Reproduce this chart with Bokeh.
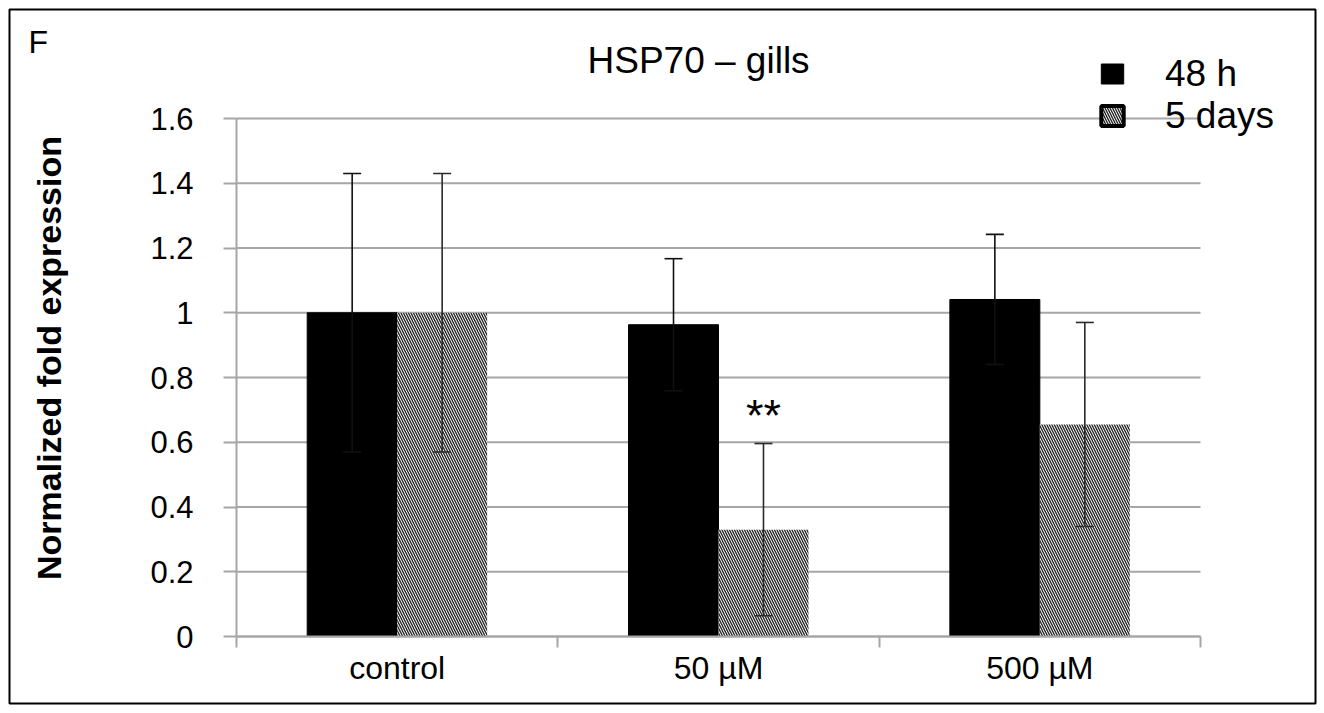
import math
from bokeh.plotting import figure
from bokeh.models import (Range1d, LinearAxis, FixedTicker, ColumnDataSource,
                          Whisker, TeeHead, Label, Legend, LegendItem)
from bokeh.transform import dodge
from bokeh.core.properties import value
from bokeh.embed import file_html
from bokeh.resources import INLINE

# ---------------- data ----------------
categories = ["control", "50 µM", "500 µM"]
series_names = ["48 h", "5 days"]
mean_48h = [1.00, 0.963, 1.041]
err_48h = [0.43, 0.204, 0.201]
mean_5d = [1.00, 0.33, 0.655]
err_5d = [0.43, 0.266, 0.315]
y_ticks = [0, 0.2, 0.4, 0.6, 0.8, 1.0, 1.2, 1.4, 1.6]
y_tick_labels = ["0", "0.2", "0.4", "0.6", "0.8", "1", "1.2", "1.4", "1.6"]
title_text = "HSP70 – gills"
panel_letter = "F"
y_label = "Normalized fold expression"
signif_category = "50 µM"
signif_text = "**"

# ---------------- layout / styles ----------------
FONT = "Liberation Sans"
GRID = "#a6a6a6"
W, H = 1324, 712
FR = 9                              # inset of the boxed frame from the figure edge
AX_LEFT, AX_RIGHT = 236, 1200       # page x of category axis ends
Y0_PX, Y1_PX = 636, 118             # page y of lowest / highest tick
BAR_W = 0.28
OFF = 0.14

n = len(categories)
centres = [i + 0.5 for i in range(n)]
bounds = [float(i) for i in range(n + 1)]
ymin, ymax = y_ticks[0], y_ticks[-1]

cat_px = (AX_RIGHT - AX_LEFT) / n
px_per = (Y0_PX - Y1_PX) / (ymax - ymin)
x_range = Range1d(bounds[0] - (AX_LEFT - FR) / cat_px, bounds[-1] + (W - FR - AX_RIGHT) / cat_px)
y_range = Range1d(ymin - (H - FR - Y0_PX) / px_per, ymax + (Y1_PX - FR) / px_per)


def sx(px):   # page x -> frame screen x
    return px - FR


def sy(py):   # page y -> frame screen y (from bottom)
    return (H - FR) - py


src = ColumnDataSource(dict(
    xc=centres, cat=categories,
    m48=mean_48h, m5=mean_5d,
    up48=[m + e for m, e in zip(mean_48h, err_48h)],
    lo48=[m - e for m, e in zip(mean_48h, err_48h)],
    up5=[m + e for m, e in zip(mean_5d, err_5d)],
    lo5=[m - e for m, e in zip(mean_5d, err_5d)],
))

p = figure(x_range=x_range, y_range=y_range, width=W, height=H,
           output_backend="svg", toolbar_location=None,
           x_axis_type=None, y_axis_type=None, min_border=FR)
p.outline_line_color = "black"
p.outline_line_width = 2
p.background_fill_color = "white"
p.border_fill_color = "white"
p.xgrid.visible = False
p.ygrid.visible = False

# horizontal grid lines across the category span
grid_src = ColumnDataSource(dict(y=y_ticks, x0=[bounds[0]] * len(y_ticks),
                                 x1=[bounds[-1]] * len(y_ticks)))
p.segment(x0="x0", y0="y", x1="x1", y1="y", source=grid_src,
          line_color=GRID, line_width=2, level="underlay")

# y axis
ya = LinearAxis(fixed_location=bounds[0], bounds=(ymin, ymax),
                ticker=FixedTicker(ticks=y_ticks),
                major_label_overrides={t: l for t, l in zip(y_ticks, y_tick_labels)})
ya.major_label_text_font = FONT
ya.major_label_text_font_size = "31px"
ya.major_label_text_color = "black"
ya.major_label_standoff = 30
ya.major_tick_out = 13
ya.major_tick_in = 0
ya.minor_tick_line_color = None
ya.major_tick_line_color = GRID
ya.major_tick_line_width = 2
ya.axis_line_color = GRID
ya.axis_line_width = 2
p.add_layout(ya, "left")

# x axis: labels at category centres, ticks at category boundaries
overrides = {c: lab for c, lab in zip(centres, categories)}
xa = LinearAxis(fixed_location=ymin, bounds=(bounds[0], bounds[-1]),
                ticker=FixedTicker(ticks=centres, minor_ticks=bounds),
                major_label_overrides=overrides)
xa.major_label_text_font = FONT
xa.major_label_text_font_size = "32px"
xa.major_label_text_color = "black"
xa.major_label_standoff = 2
xa.major_tick_out = 0
xa.major_tick_in = 0
xa.major_tick_line_color = None
xa.minor_tick_out = 11
xa.minor_tick_in = 0
xa.minor_tick_line_color = GRID
xa.minor_tick_line_width = 2
xa.axis_line_color = GRID
xa.axis_line_width = 2
p.add_layout(xa, "below")

# bars
HATCH = dict(hatch_pattern="\\", hatch_color="#262626", hatch_scale=5, hatch_weight=1.4)
r48 = p.vbar(x=dodge("xc", -OFF), top="m48", width=BAR_W, source=src,
             fill_color="black", line_color="black", line_width=1)
r5 = p.vbar(x=dodge("xc", OFF), top="m5", width=BAR_W, source=src,
            fill_color="white", line_color=None, **HATCH)

# error bars
for base_off, up, lo, col in [(-OFF, "up48", "lo48", "#111111"), (OFF, "up5", "lo5", "#2a2a2a")]:
    wk = Whisker(source=src, base=dodge("xc", base_off), upper=up, lower=lo,
                 line_color=col, line_width=1.6, level="annotation",
                 upper_head=TeeHead(size=18, line_color=col, line_width=1.6),
                 lower_head=TeeHead(size=18, line_color=col, line_width=1.6))
    p.add_layout(wk)

# significance marker
si = categories.index(signif_category)
star_src = ColumnDataSource(dict(xc=[centres[si]], y=[mean_5d[si] + err_5d[si]], t=[signif_text]))
p.text(x=dodge("xc", OFF), y="y", text="t", source=star_src,
       text_font=value(FONT), text_font_size="45px", text_align="center",
       text_baseline="middle", y_offset=-28, text_color="black")

# legend: boxed hatch swatch comes from a hidden renderer of the same series
leg5 = p.vbar(x=dodge("xc", OFF), top="m5", width=BAR_W, source=src,
              fill_color="white", line_color="black", line_width=4, **HATCH)
leg5.visible = False
legend = Legend(items=[LegendItem(label=series_names[0], renderers=[r48]),
                       LegendItem(label=series_names[1], renderers=[leg5])],
                location=(sx(1098), sy(136.5)), orientation="vertical")
legend.label_text_font = FONT
legend.label_text_font_size = "37px"
legend.label_text_color = "black"
legend.glyph_width = 28
legend.glyph_height = 25
legend.label_height = 42
legend.label_standoff = 39
legend.spacing = 0
legend.padding = 0
legend.margin = 0
legend.border_line_color = None
legend.background_fill_alpha = 0
legend.inactive_fill_alpha = 0
p.add_layout(legend, "center")

# title, panel letter, y label
p.add_layout(Label(x=sx(587), y=sy(60), x_units="screen", y_units="screen", text=title_text,
                   text_font=FONT, text_font_size="37px", text_color="black",
                   text_align="left", text_baseline="alphabetic"))
p.add_layout(Label(x=sx(28), y=sy(41), x_units="screen", y_units="screen", text=panel_letter,
                   text_font=FONT, text_font_size="32px", text_color="black",
                   text_align="left", text_baseline="alphabetic"))
p.add_layout(Label(x=sx(48), y=sy(357.5), x_units="screen", y_units="screen", text=y_label,
                   angle=math.pi / 2, text_font=FONT, text_font_size="34px",
                   text_font_style="bold", text_color="black",
                   text_align="center", text_baseline="alphabetic"))

open("out.html", "w").write(file_html(p, INLINE))
